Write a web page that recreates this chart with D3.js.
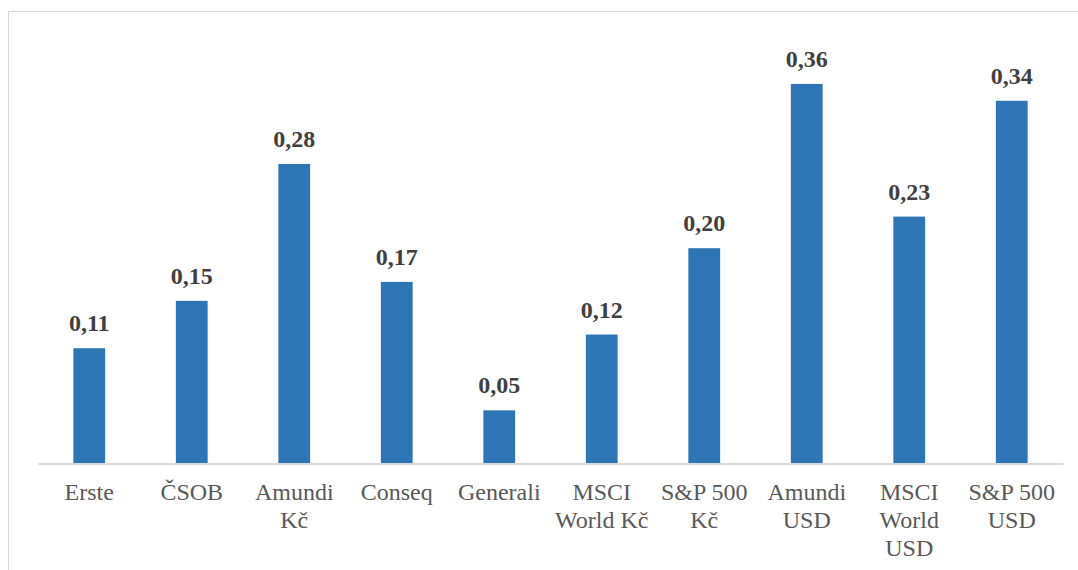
<!DOCTYPE html>
<html>
<head>
<meta charset="utf-8">
<script src="https://cdn.jsdelivr.net/npm/d3@7"></script>
<style>
  body { margin: 0; background: #fff; }
</style>
</head>
<body>
<svg id="chart" width="1078" height="570" style="font-family:'Liberation Serif', serif"></svg>
<script>
//Data
var categories = [
  ["Erste"], ["ČSOB"], ["Amundi", "Kč"], ["Conseq"], ["Generali"],
  ["MSCI", "World Kč"], ["S&P 500", "Kč"], ["Amundi", "USD"],
  ["MSCI", "World", "USD"], ["S&P 500", "USD"]
];
var values = [0.109, 0.154, 0.284, 0.172, 0.050, 0.122, 0.204, 0.360, 0.234, 0.344];
var yDomain = [0, 0.4];

//Width and height
var w = 1078;
var h = 570;
var left = 38, right = 1063, base = 463;

var keys = categories.map(function(d) { return d.join(" "); });

var xScale = d3.scaleBand()
  .domain(keys)
  .range([left, right])
  .paddingInner(0.69)
  .paddingOuter(0.345);

var yScale = d3.scaleLinear()
  .domain(yDomain)
  .range([base, base - 0.4 * 1053]);

var svg = d3.select("#chart");

//Chart frame (top and left edges visible)
svg.append("path")
  .attr("d", "M8.5," + h + "V11.5H" + w)
  .attr("fill", "none")
  .attr("stroke", "#d9d9d9")
  .attr("stroke-width", 1);

//Bars
svg.selectAll("rect.bar")
  .data(values)
  .enter()
  .append("rect")
  .attr("class", "bar")
  .attr("x", function(d, i) { return xScale(keys[i]); })
  .attr("y", function(d) { return yScale(d); })
  .attr("width", xScale.bandwidth())
  .attr("height", function(d) { return yScale(0) - yScale(d); })
  .attr("fill", "#2e75b6");

//X axis
var xAxis = d3.axisBottom(xScale).tickSize(0).tickFormat("");
var gx = svg.append("g")
  .attr("class", "axis x")
  .attr("transform", "translate(0," + (base + 0.5) + ")")
  .call(xAxis)
  .attr("font-family", null)
  .attr("font-size", null);
gx.select(".domain").attr("stroke", "#d9d9d9").attr("stroke-width", 2);

//Category labels, multi-line
gx.selectAll(".tick").each(function(d, i) {
  var t = d3.select(this).append("text")
    .attr("fill", "#595959")
    .attr("style", "font-family:'Liberation Serif';font-size:24px")
    .attr("text-anchor", "middle");
  categories[i].forEach(function(line, j) {
    t.append("tspan")
      .attr("x", 0)
      .attr("y", 36 + j * 28)
      .text(line);
  });
});

//Value labels
var fmt = function(d) { return d3.format(".2f")(d).replace(".", ","); };
svg.selectAll("text.val")
  .data(values)
  .enter()
  .append("text")
  .attr("class", "val")
  .attr("x", function(d, i) { return xScale(keys[i]) + xScale.bandwidth() / 2; })
  .attr("y", function(d) { return yScale(d) - 17; })
  .attr("text-anchor", "middle")
  .attr("fill", "#404040")
  .attr("style", "font-family:'Liberation Serif';font-weight:bold;font-size:24px")
  .text(fmt);
</script>
</body>
</html>
